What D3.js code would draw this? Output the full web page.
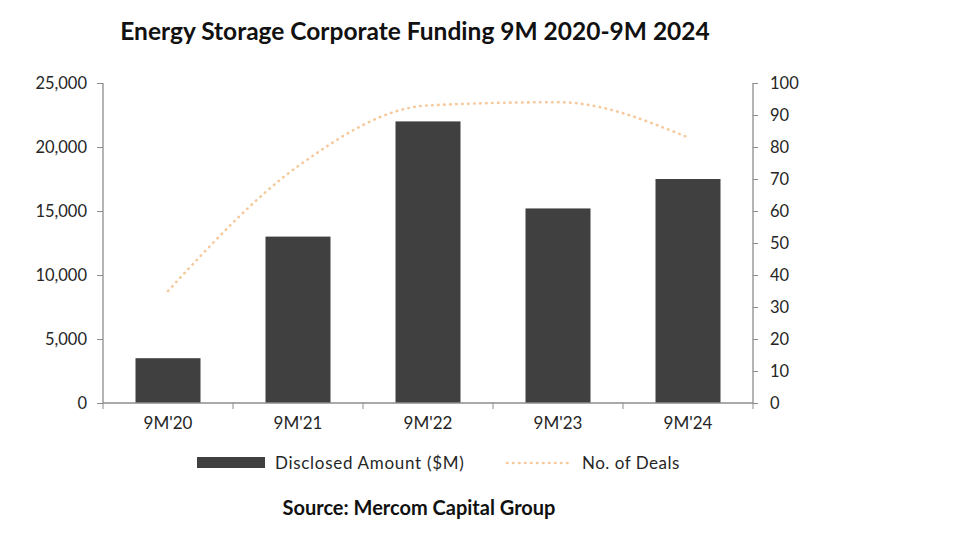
<!DOCTYPE html>
<html>
<head>
<meta charset="utf-8">
<script src="https://cdn.jsdelivr.net/npm/d3@7"></script>
<style>
  body { margin: 0; background: #fff; }
  svg text { font-family: Lato, "Open Sans", sans-serif; fill: #262626; }
</style>
</head>
<body>
<div id="chart"></div>
<script>
// DATA
var categories = ["9M'20", "9M'21", "9M'22", "9M'23", "9M'24"];
var amounts = [3500, 13000, 22000, 15200, 17500]; // Disclosed Amount ($M)
var deals = [35, 74, 93, 94, 83];                 // No. of Deals
var leftTicks = [0, 5000, 10000, 15000, 20000, 25000];
var rightTicks = [0, 10, 20, 30, 40, 50, 60, 70, 80, 90, 100];

var svgWidth = 957, svgHeight = 542;
var margins = { top: 83, left: 103, right: 204, bottom: 139 };
var width = svgWidth - margins.left - margins.right;
var height = svgHeight - margins.top - margins.bottom;

var svg = d3.select("#chart").append("svg")
    .attr("width", svgWidth)
    .attr("height", svgHeight);

// Title
svg.append("text")
    .attr("x", 415).attr("y", 40)
    .attr("text-anchor", "middle")
    .style("font-size", "24.5px")
    .style("font-weight", "bold")
    .style("fill", "#111")
    .text("Energy Storage Corporate Funding 9M 2020-9M 2024");

var g = svg.append("g")
    .attr("transform", "translate(" + margins.left + "," + margins.top + ")");

// Scales
var x = d3.scaleBand().domain(categories).range([0, width]).paddingInner(0.5).paddingOuter(0.25);
var xBand = d3.scaleBand().domain(categories).range([0, width]);
var yLeft = d3.scaleLinear().domain([0, 25000]).range([height, 0]);
var yRight = d3.scaleLinear().domain([0, 100]).range([height, 0]);

// Bars
g.selectAll(".bar")
    .data(amounts)
    .enter().append("rect")
    .attr("x", (d, i) => x(categories[i]))
    .attr("width", x.bandwidth())
    .attr("y", d => yLeft(d))
    .attr("height", d => height - yLeft(d))
    .attr("fill", "#404040");

// Line
var line = d3.line()
    .x((d, i) => xBand(categories[i]) + xBand.bandwidth() / 2)
    .y(d => yRight(d))
    .curve(d3.curveMonotoneX);

g.append("path")
    .datum(deals)
    .attr("fill", "none")
    .attr("stroke", "#f6c99c")
    .attr("stroke-width", 2.6)
    .attr("stroke-linecap", "round")
    .attr("stroke-dasharray", "0.5 5.5")
    .attr("d", line);

// Axes
var axisColor = "#8c8c8c";

var leftAxis = g.append("g")
    .call(d3.axisLeft(yLeft).tickValues(leftTicks).tickSize(6).tickPadding(10)
        .tickFormat(d3.format(",")));

var rightAxis = g.append("g")
    .attr("transform", "translate(" + width + ",0)")
    .call(d3.axisRight(yRight).tickValues(rightTicks).tickSize(5).tickPadding(12));

var bottomAxis = g.append("g")
    .attr("transform", "translate(0," + height + ")")
    .call(d3.axisBottom(xBand).tickSize(0).tickPadding(14));

// category boundary ticks
g.selectAll(".xtick")
    .data(d3.range(categories.length + 1))
    .enter().append("line")
    .attr("x1", i => i * xBand.step())
    .attr("x2", i => i * xBand.step())
    .attr("y1", height)
    .attr("y2", height + 6)
    .attr("stroke", axisColor);

[leftAxis, rightAxis, bottomAxis].forEach(function(a) {
    a.select(".domain").attr("stroke", axisColor).attr("stroke-width", 1.3);
    a.selectAll(".tick line").attr("stroke", axisColor);
    a.selectAll("text").style("font-size", "16.5px").style("fill", "#262626");
});
bottomAxis.selectAll("text").style("font-size", "17px");
leftAxis.select(".domain").attr("d", "M0," + height + "V0");
rightAxis.select(".domain").attr("d", "M0," + height + "V0");
bottomAxis.select(".domain").attr("d", "M0,0H" + width);

// Legend
var legend = svg.append("g");
legend.append("rect")
    .attr("x", 197).attr("y", 457)
    .attr("width", 68).attr("height", 11)
    .attr("fill", "#404040");
legend.append("text")
    .attr("x", 275).attr("y", 469)
    .style("font-size", "17px")
    .style("letter-spacing", "0.7px")
    .text("Disclosed Amount ($M)");
legend.append("line")
    .attr("x1", 507).attr("x2", 570)
    .attr("y1", 463).attr("y2", 463)
    .attr("stroke", "#f6c99c")
    .attr("stroke-width", 2.6)
    .attr("stroke-linecap", "round")
    .attr("stroke-dasharray", "0.5 5.5");
legend.append("text")
    .attr("x", 582).attr("y", 469)
    .style("font-size", "17px")
    .style("letter-spacing", "0.5px")
    .text("No. of Deals");

// Source
svg.append("text")
    .attr("x", 419).attr("y", 515)
    .attr("text-anchor", "middle")
    .style("font-size", "20px")
    .style("font-weight", "bold")
    .style("fill", "#111")
    .text("Source: Mercom Capital Group");
</script>
</body>
</html>
